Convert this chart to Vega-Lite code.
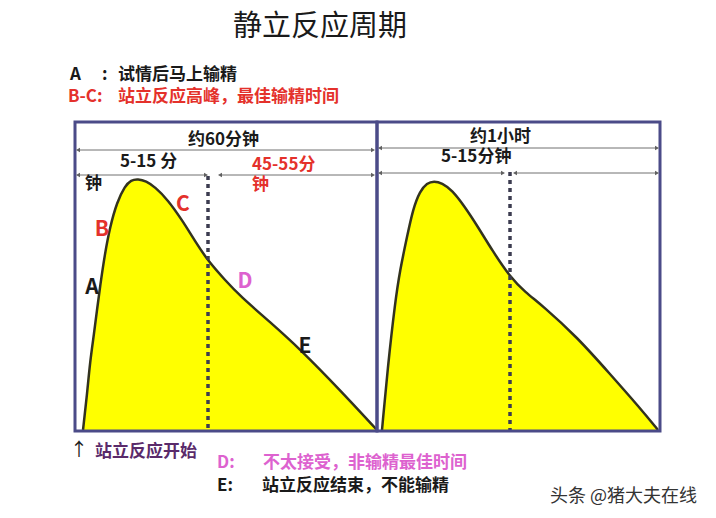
{
  "$schema": "https://vega.github.io/schema/vega-lite/v6.json",
  "width": 716,
  "height": 518,
  "autosize": {"type": "fit", "contains": "padding"},
  "padding": 0,
  "background": "white",
  "config": {
    "view": {"stroke": null},
    "text": {"font": "Noto Sans CJK SC"}
  },
  "datasets": {
    "curve": [
      {"panel": "约60分钟", "x": 83, "y": 430},
      {"panel": "约60分钟", "x": 87, "y": 395},
      {"panel": "约60分钟", "x": 90, "y": 362},
      {"panel": "约60分钟", "x": 94, "y": 334},
      {"panel": "约60分钟", "x": 97, "y": 310},
      {"panel": "约60分钟", "x": 100, "y": 287},
      {"panel": "约60分钟", "x": 105, "y": 253},
      {"panel": "约60分钟", "x": 110, "y": 227},
      {"panel": "约60分钟", "x": 117, "y": 202},
      {"panel": "约60分钟", "x": 125, "y": 186},
      {"panel": "约60分钟", "x": 131, "y": 180},
      {"panel": "约60分钟", "x": 138, "y": 179},
      {"panel": "约60分钟", "x": 146, "y": 181},
      {"panel": "约60分钟", "x": 155, "y": 187},
      {"panel": "约60分钟", "x": 168, "y": 200},
      {"panel": "约60分钟", "x": 182, "y": 220},
      {"panel": "约60分钟", "x": 195, "y": 241},
      {"panel": "约60分钟", "x": 208, "y": 261},
      {"panel": "约60分钟", "x": 225, "y": 280},
      {"panel": "约60分钟", "x": 240, "y": 296},
      {"panel": "约60分钟", "x": 270, "y": 322},
      {"panel": "约60分钟", "x": 300, "y": 349},
      {"panel": "约60分钟", "x": 340, "y": 390},
      {"panel": "约60分钟", "x": 377, "y": 430},
      {"panel": "约1小时", "x": 382, "y": 430},
      {"panel": "约1小时", "x": 388, "y": 365},
      {"panel": "约1小时", "x": 395, "y": 303},
      {"panel": "约1小时", "x": 400, "y": 270},
      {"panel": "约1小时", "x": 407, "y": 237},
      {"panel": "约1小时", "x": 413, "y": 209},
      {"panel": "约1小时", "x": 420, "y": 191},
      {"panel": "约1小时", "x": 427, "y": 183},
      {"panel": "约1小时", "x": 434, "y": 181},
      {"panel": "约1小时", "x": 442, "y": 183},
      {"panel": "约1小时", "x": 452, "y": 190},
      {"panel": "约1小时", "x": 465, "y": 207},
      {"panel": "约1小时", "x": 478, "y": 227},
      {"panel": "约1小时", "x": 492, "y": 250},
      {"panel": "约1小时", "x": 510, "y": 277},
      {"panel": "约1小时", "x": 525, "y": 292},
      {"panel": "约1小时", "x": 543, "y": 306},
      {"panel": "约1小时", "x": 577, "y": 337},
      {"panel": "约1小时", "x": 610, "y": 374},
      {"panel": "约1小时", "x": 640, "y": 408},
      {"panel": "约1小时", "x": 658, "y": 430}
    ],
    "frames": [
      {"x": 75, "x2": 377, "y": 122, "y2": 431},
      {"x": 377, "x2": 660, "y": 122, "y2": 431}
    ],
    "dividers": [
      {"x": 208, "y": 176, "y2": 430},
      {"x": 510, "y": 172, "y2": 430}
    ],
    "spans": [
      {"x": 78, "x2": 373, "y": 150},
      {"x": 78, "x2": 206, "y": 175},
      {"x": 220, "x2": 373, "y": 175},
      {"x": 380, "x2": 657, "y": 148},
      {"x": 380, "x2": 503, "y": 173},
      {"x": 515, "x2": 657, "y": 173}
    ],
    "labels": [
      {"text": "A", "phase": "A", "x": 70, "y": 75},
      {"text": ":", "phase": "A", "x": 102, "y": 75},
      {"text": "试情后马上输精", "phase": "A", "x": 118, "y": 75},
      {"text": "B-C:", "phase": "B-C", "x": 68, "y": 97},
      {"text": "站立反应高峰，最佳输精时间", "phase": "B-C", "x": 118, "y": 97},
      {"text": "约60分钟", "phase": "A", "x": 188, "y": 140},
      {"text": "5-15 分", "phase": "A", "x": 120, "y": 162},
      {"text": "钟", "phase": "A", "x": 85, "y": 184},
      {"text": "45-55分", "phase": "B-C", "x": 252, "y": 165},
      {"text": "钟", "phase": "B-C", "x": 252, "y": 185},
      {"text": "约1小时", "phase": "A", "x": 470, "y": 137},
      {"text": "5-15分钟", "phase": "A", "x": 441, "y": 157},
      {"text": "站立反应开始", "phase": "onset", "x": 95, "y": 452},
      {"text": "D:", "phase": "D", "x": 217, "y": 463},
      {"text": "不太接受，非输精最佳时间", "phase": "D", "x": 263, "y": 463},
      {"text": "E:", "phase": "E", "x": 217, "y": 486},
      {"text": "站立反应结束，不能输精", "phase": "E", "x": 262, "y": 486}
    ],
    "points": [
      {"text": "A", "phase": "A", "x": 92, "y": 288},
      {"text": "B", "phase": "B-C", "x": 102, "y": 230},
      {"text": "C", "phase": "B-C", "x": 183, "y": 205},
      {"text": "D", "phase": "D", "x": 245, "y": 282},
      {"text": "E", "phase": "E", "x": 305, "y": 347}
    ],
    "plain": [
      {"text": "↑", "phase": "E", "x": 70, "y": 451},
      {"text": "头条 @猪大夫在线", "phase": "credit", "x": 550, "y": 497}
    ]
  },
  "layer": [
    {
      "data": {"name": "curve"},
      "mark": {"type": "area", "interpolate": "basis", "color": "#ffff00"},
      "encoding": {
        "x": {"field": "x", "type": "quantitative", "scale": {"domain": [0, 716], "nice": false, "zero": false}, "axis": null},
        "y": {"field": "y", "type": "quantitative", "scale": {"domain": [0, 518], "nice": false, "zero": false, "reverse": true}, "axis": null},
        "y2": {"datum": 430},
        "detail": {"field": "panel"}
      }
    },
    {
      "data": {"name": "curve"},
      "mark": {"type": "line", "interpolate": "basis", "color": "#33331f", "strokeWidth": 2.5},
      "encoding": {
        "x": {"field": "x", "type": "quantitative"},
        "y": {"field": "y", "type": "quantitative"},
        "detail": {"field": "panel"}
      }
    },
    {
      "data": {"name": "dividers"},
      "mark": {"type": "rule", "color": "#3c3c50", "strokeWidth": 3.5, "strokeDash": [4, 4]},
      "encoding": {
        "x": {"field": "x", "type": "quantitative"},
        "y": {"field": "y", "type": "quantitative"},
        "y2": {"field": "y2"}
      }
    },
    {
      "data": {"name": "frames"},
      "mark": {"type": "rect", "fillOpacity": 0, "stroke": "#4b4b88", "strokeWidth": 3},
      "encoding": {
        "x": {"field": "x", "type": "quantitative"},
        "x2": {"field": "x2"},
        "y": {"field": "y", "type": "quantitative"},
        "y2": {"field": "y2"}
      }
    },
    {
      "data": {"name": "spans"},
      "mark": {"type": "rule", "color": "#707070", "strokeWidth": 1},
      "encoding": {
        "x": {"field": "x", "type": "quantitative"},
        "x2": {"field": "x2"},
        "y": {"field": "y", "type": "quantitative"}
      }
    },
    {
      "data": {"name": "spans"},
      "mark": {"type": "point", "shape": "triangle-left", "filled": true, "color": "#606060", "size": 22, "opacity": 1},
      "encoding": {
        "x": {"field": "x", "type": "quantitative"},
        "y": {"field": "y", "type": "quantitative"}
      }
    },
    {
      "data": {"name": "spans"},
      "mark": {"type": "point", "shape": "triangle-right", "filled": true, "color": "#606060", "size": 22, "opacity": 1},
      "encoding": {
        "x": {"field": "x2", "type": "quantitative"},
        "y": {"field": "y", "type": "quantitative"}
      }
    },
    {
      "data": {"values": [{"text": "静立反应周期", "x": 320, "y": 27}]},
      "mark": {"type": "text", "fontSize": 29, "fontWeight": "normal", "color": "#1a1a1a", "align": "center", "baseline": "middle"},
      "encoding": {
        "x": {"field": "x", "type": "quantitative"},
        "y": {"field": "y", "type": "quantitative"},
        "text": {"field": "text"}
      }
    },
    {
      "data": {"name": "labels"},
      "mark": {"type": "text", "fontSize": 17, "fontWeight": "bold", "align": "left", "baseline": "middle"},
      "encoding": {
        "x": {"field": "x", "type": "quantitative"},
        "y": {"field": "y", "type": "quantitative"},
        "text": {"field": "text"},
        "color": {
          "field": "phase",
          "type": "nominal",
          "scale": {"domain": ["A", "B-C", "D", "E", "onset", "credit"], "range": ["#1a1a1a", "#e4312b", "#dd62cf", "#1a1a1a", "#5a2a6a", "#333333"]},
          "legend": null
        }
      }
    },
    {
      "data": {"name": "points"},
      "mark": {"type": "text", "fontSize": 21, "fontWeight": "bold", "align": "center", "baseline": "middle"},
      "encoding": {
        "x": {"field": "x", "type": "quantitative"},
        "y": {"field": "y", "type": "quantitative"},
        "text": {"field": "text"},
        "color": {"field": "phase", "type": "nominal", "legend": null}
      }
    },
    {
      "data": {"name": "plain"},
      "mark": {"type": "text", "fontSize": 18, "fontWeight": "normal", "align": "left", "baseline": "middle"},
      "encoding": {
        "x": {"field": "x", "type": "quantitative"},
        "y": {"field": "y", "type": "quantitative"},
        "text": {"field": "text"},
        "color": {"field": "phase", "type": "nominal", "legend": null}
      }
    }
  ]
}
